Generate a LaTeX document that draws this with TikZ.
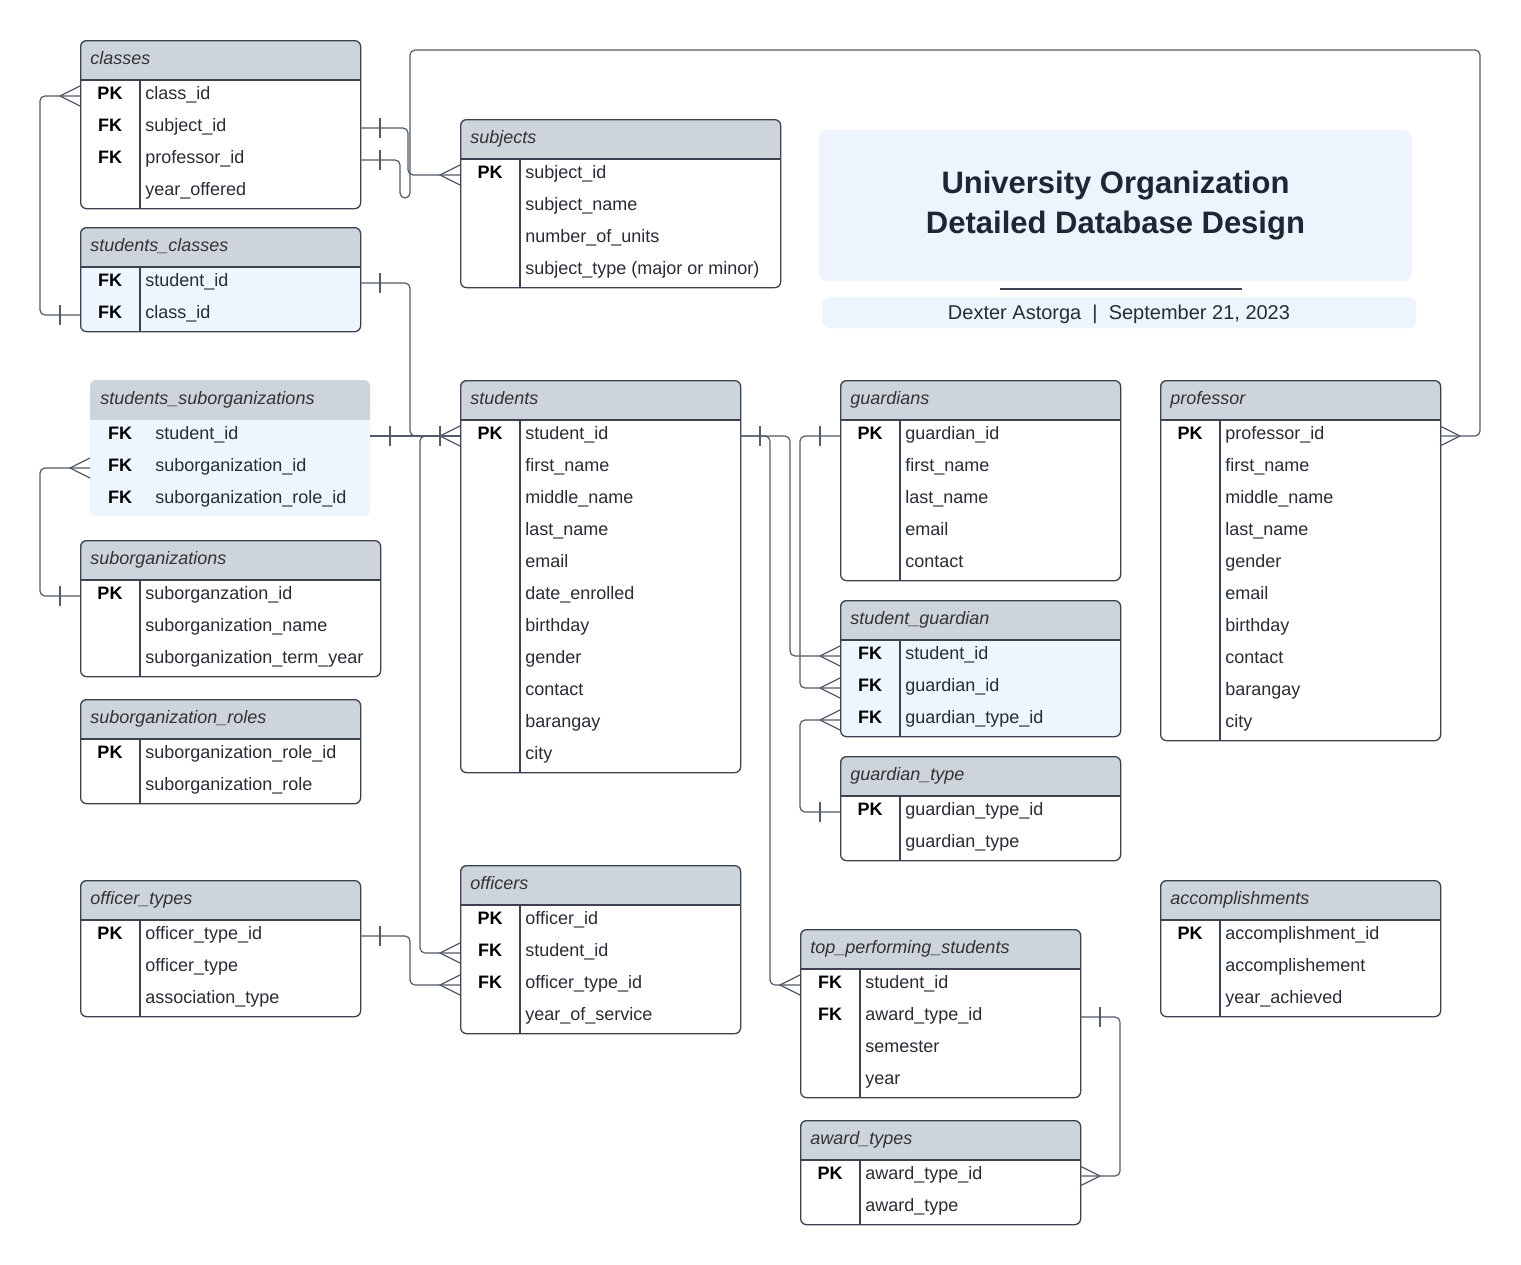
\documentclass[tikz,border=0pt]{standalone}
\usepackage{fontspec}
\setmainfont{Liberation Sans}
\usetikzlibrary{calc}

\definecolor{headgrey}{HTML}{CED4DC}
\definecolor{rowblue}{HTML}{EDF5FF}
\definecolor{tblgray}{HTML}{3C4250}
\definecolor{linegray}{HTML}{545B68}
\definecolor{titleblue}{HTML}{EDF4FE}
\definecolor{titleink}{HTML}{1F2533}
\definecolor{inkgray}{HTML}{282C34}

% #1 name, #2 x, #3 y, #4 width, #5 rows, #6 body fill, #7 frame style, #8 title, #9 key/field list
\newcommand{\erTable}[9]{%
  \fill[#6, rounded corners=3pt] (#2,#3) rectangle ++(#4,{40+32*#5});
  \fill[headgrey, rounded corners=3pt] (#2,#3) rectangle ++(#4,40);
  \fill[headgrey] (#2,{#3+20}) rectangle ++(#4,20);
  \node[#7, rounded corners=3pt, inner sep=0pt, minimum width=#4*0.5pt,
        minimum height={(40+32*#5)*0.5pt}, anchor=north west] (#1) at (#2,#3) {};
  \path[#7] (#2,{#3+40}) -- ++(#4,0);
  \path[#7] ({#2+60},{#3+40}) -- ++(0,{32*#5});
  \node[tbltitle] (#1-title) at ({#2+10},{#3+24}) {#8};
  \foreach \k/\f [count=\i from 0] in {#9} {
    \node[rowslot, minimum width=#4*0.5pt] (#1-r\i) at (#2,{#3+40+32*\i}) {};
    \node[keytext] (#1-k\i) at ({#2+30},{#3+59.5+32*\i}) {\k};
    \node[fieldtext] (#1-f\i) at ({#2+65},{#3+59.5+32*\i}) {\f};
  }
}

\begin{document}
\begin{tikzpicture}[
    x=0.5pt, y=-0.5pt,
    tblframe/.style={draw=tblgray, line width=0.65pt},
    noframe/.style={draw=none},
    rowslot/.style={anchor=north west, minimum height=16pt, inner sep=0pt, outer sep=0pt},
    tbltitle/.style={anchor=base west, inner sep=0pt, font=\fontsize{9}{11}\selectfont\itshape, text=black!80},
    keytext/.style={anchor=base, inner sep=0pt, font=\fontsize{9}{11}\selectfont\bfseries, text=black},
    fieldtext/.style={anchor=base west, inner sep=0pt, font=\fontsize{9}{11}\selectfont, text=inkgray},
    conn/.style={draw=linegray, line width=0.6pt, rounded corners=2.5pt},
    marker/.style={draw=linegray, line width=0.6pt},
    crowW/.pic={\draw[marker] (0,-10) -- (-20,0) -- (0,10);},
    crowE/.pic={\draw[marker] (0,-10) -- (20,0) -- (0,10);},
    barW/.pic={\draw[marker] (-20,-10) -- (-20,10);},
    barE/.pic={\draw[marker] (20,-10) -- (20,10);},
    titlebox/.style={fill=titleblue, rounded corners=4pt, minimum width=296.5pt, minimum height=75.5pt,
        align=center, font=\fontsize{15.5}{20}\selectfont\bfseries, text=titleink},
    subbox/.style={fill=titleblue, rounded corners=4pt, minimum width=297pt, minimum height=15.5pt,
        inner sep=0pt, font=\fontsize{10}{12}\selectfont, text=inkgray}
]

\fill[white] (0,0) rectangle (1521,1264);
\useasboundingbox (0,0) rectangle (1521,1264);

% Left column
\erTable{classes}{80}{40}{280}{4}{white}{tblframe}{classes}
  {PK/class\_id, FK/subject\_id, FK/professor\_id, /year\_offered}
\erTable{stuclasses}{80}{227}{280}{2}{rowblue}{tblframe}{students\_classes}
  {FK/student\_id, FK/class\_id}
\erTable{stusuborg}{90}{380}{280}{3}{rowblue}{noframe}{students\_suborganizations}
  {FK/student\_id, FK/suborganization\_id, FK/suborganization\_role\_id}
\erTable{suborgs}{80}{540}{300}{3}{white}{tblframe}{suborganizations}
  {PK/suborganzation\_id, /suborganization\_name, /suborganization\_term\_year}
\erTable{suborgroles}{80}{699}{280}{2}{white}{tblframe}{suborganization\_roles}
  {PK/suborganization\_role\_id, /suborganization\_role}
\erTable{officertypes}{80}{880}{280}{3}{white}{tblframe}{officer\_types}
  {PK/officer\_type\_id, /officer\_type, /association\_type}

% Middle column
\erTable{subjects}{460}{119}{320}{4}{white}{tblframe}{subjects}
  {PK/subject\_id, /subject\_name, /number\_of\_units, /subject\_type (major or minor)}
\erTable{students}{460}{380}{280}{11}{white}{tblframe}{students}
  {PK/student\_id, /first\_name, /middle\_name, /last\_name, /email, /date\_enrolled,
   /birthday, /gender, /contact, /barangay, /city}
\erTable{officers}{460}{865}{280}{4}{white}{tblframe}{officers}
  {PK/officer\_id, FK/student\_id, FK/officer\_type\_id, /year\_of\_service}

% Guardian column
\erTable{guardians}{840}{380}{280}{5}{white}{tblframe}{guardians}
  {PK/guardian\_id, /first\_name, /last\_name, /email, /contact}
\erTable{stuguardian}{840}{600}{280}{3}{rowblue}{tblframe}{student\_guardian}
  {FK/student\_id, FK/guardian\_id, FK/guardian\_type\_id}
\erTable{guardiantype}{840}{756}{280}{2}{white}{tblframe}{guardian\_type}
  {PK/guardian\_type\_id, /guardian\_type}
\erTable{topstudents}{800}{929}{280}{4}{white}{tblframe}{top\_performing\_students}
  {FK/student\_id, FK/award\_type\_id, /semester, /year}
\erTable{awardtypes}{800}{1120}{280}{2}{white}{tblframe}{award\_types}
  {PK/award\_type\_id, /award\_type}

% Right column
\erTable{professor}{1160}{380}{280}{10}{white}{tblframe}{professor}
  {PK/professor\_id, /first\_name, /middle\_name, /last\_name, /gender, /email,
   /birthday, /contact, /barangay, /city}
\erTable{accomplish}{1160}{880}{280}{3}{white}{tblframe}{accomplishments}
  {PK/accomplishment\_id, /accomplishement, /year\_achieved}

% Title block
\node[titlebox] (title) at (1115.5,205.5) {University Organization\\Detailed Database Design};
\draw[tblgray, line width=0.6pt] (1000,289) -- (1242,289);
\node[subbox] (byline) at (1119,312.5) {\raisebox{-3.4pt}[0pt][0pt]{Dexter Astorga\ \ |\ \ September 21, 2023}};

% Relationships
\draw[conn] (classes-r0.west) -- ++(-40,0) |- (stuclasses-r1.west);
\draw[conn] (classes-r1.east) -- ++(48,0) |- (subjects-r0.west);
\draw[conn] (classes-r2.east) -- ++(40,0) -- ++(0,38) -- ++(10,0)
    |- ($(professor-r0.east)+(40,-386)$) |- (professor-r0.east);
\draw[conn] (stuclasses-r0.east) -- ++(50,0) |- (students-r0.west);
\draw[conn] (stusuborg-r0.east) -- (students-r0.west);
\draw[conn] (students-r0.west) -- ++(-40,0) |- (officers-r1.west);
\draw[conn] (stusuborg-r1.west) -- ++(-50,0) |- (suborgs-r0.west);
\draw[conn] (officertypes-r0.east) -- ++(50,0) |- (officers-r2.west);
\draw[conn] (students-r0.east) -- ++(30,0) |- (topstudents-r0.west);
\draw[conn] (students-r0.east) -- ++(50,0) |- (stuguardian-r0.west);
\draw[conn] (guardians-r0.west) -- ++(-40,0) |- (stuguardian-r1.west);
\draw[conn] (guardiantype-r0.west) -- ++(-40,0) |- (stuguardian-r2.west);
\draw[conn] (topstudents-r1.east) -- ++(40,0) |- (awardtypes-r0.east);

% Crow's feet and bars
\pic at (classes-r0.west) {crowW};
\pic at (stuclasses-r1.west) {barW};
\pic at (classes-r1.east) {barE};
\pic at (subjects-r0.west) {crowW};
\pic at (classes-r2.east) {barE};
\pic at (professor-r0.east) {crowE};
\pic at (stuclasses-r0.east) {barE};
\pic at (stusuborg-r0.east) {barE};
\pic at (students-r0.west) {crowW};
\pic at (students-r0.west) {barW};
\pic at (officers-r1.west) {crowW};
\pic at (stusuborg-r1.west) {crowW};
\pic at (suborgs-r0.west) {barW};
\pic at (officertypes-r0.east) {barE};
\pic at (officers-r2.west) {crowW};
\pic at (students-r0.east) {barE};
\pic at (topstudents-r0.west) {crowW};
\pic at (stuguardian-r0.west) {crowW};
\pic at (guardians-r0.west) {barW};
\pic at (stuguardian-r1.west) {crowW};
\pic at (guardiantype-r0.west) {barW};
\pic at (stuguardian-r2.west) {crowW};
\pic at (topstudents-r1.east) {barE};
\pic at (awardtypes-r0.east) {crowE};

\end{tikzpicture}
\end{document}
